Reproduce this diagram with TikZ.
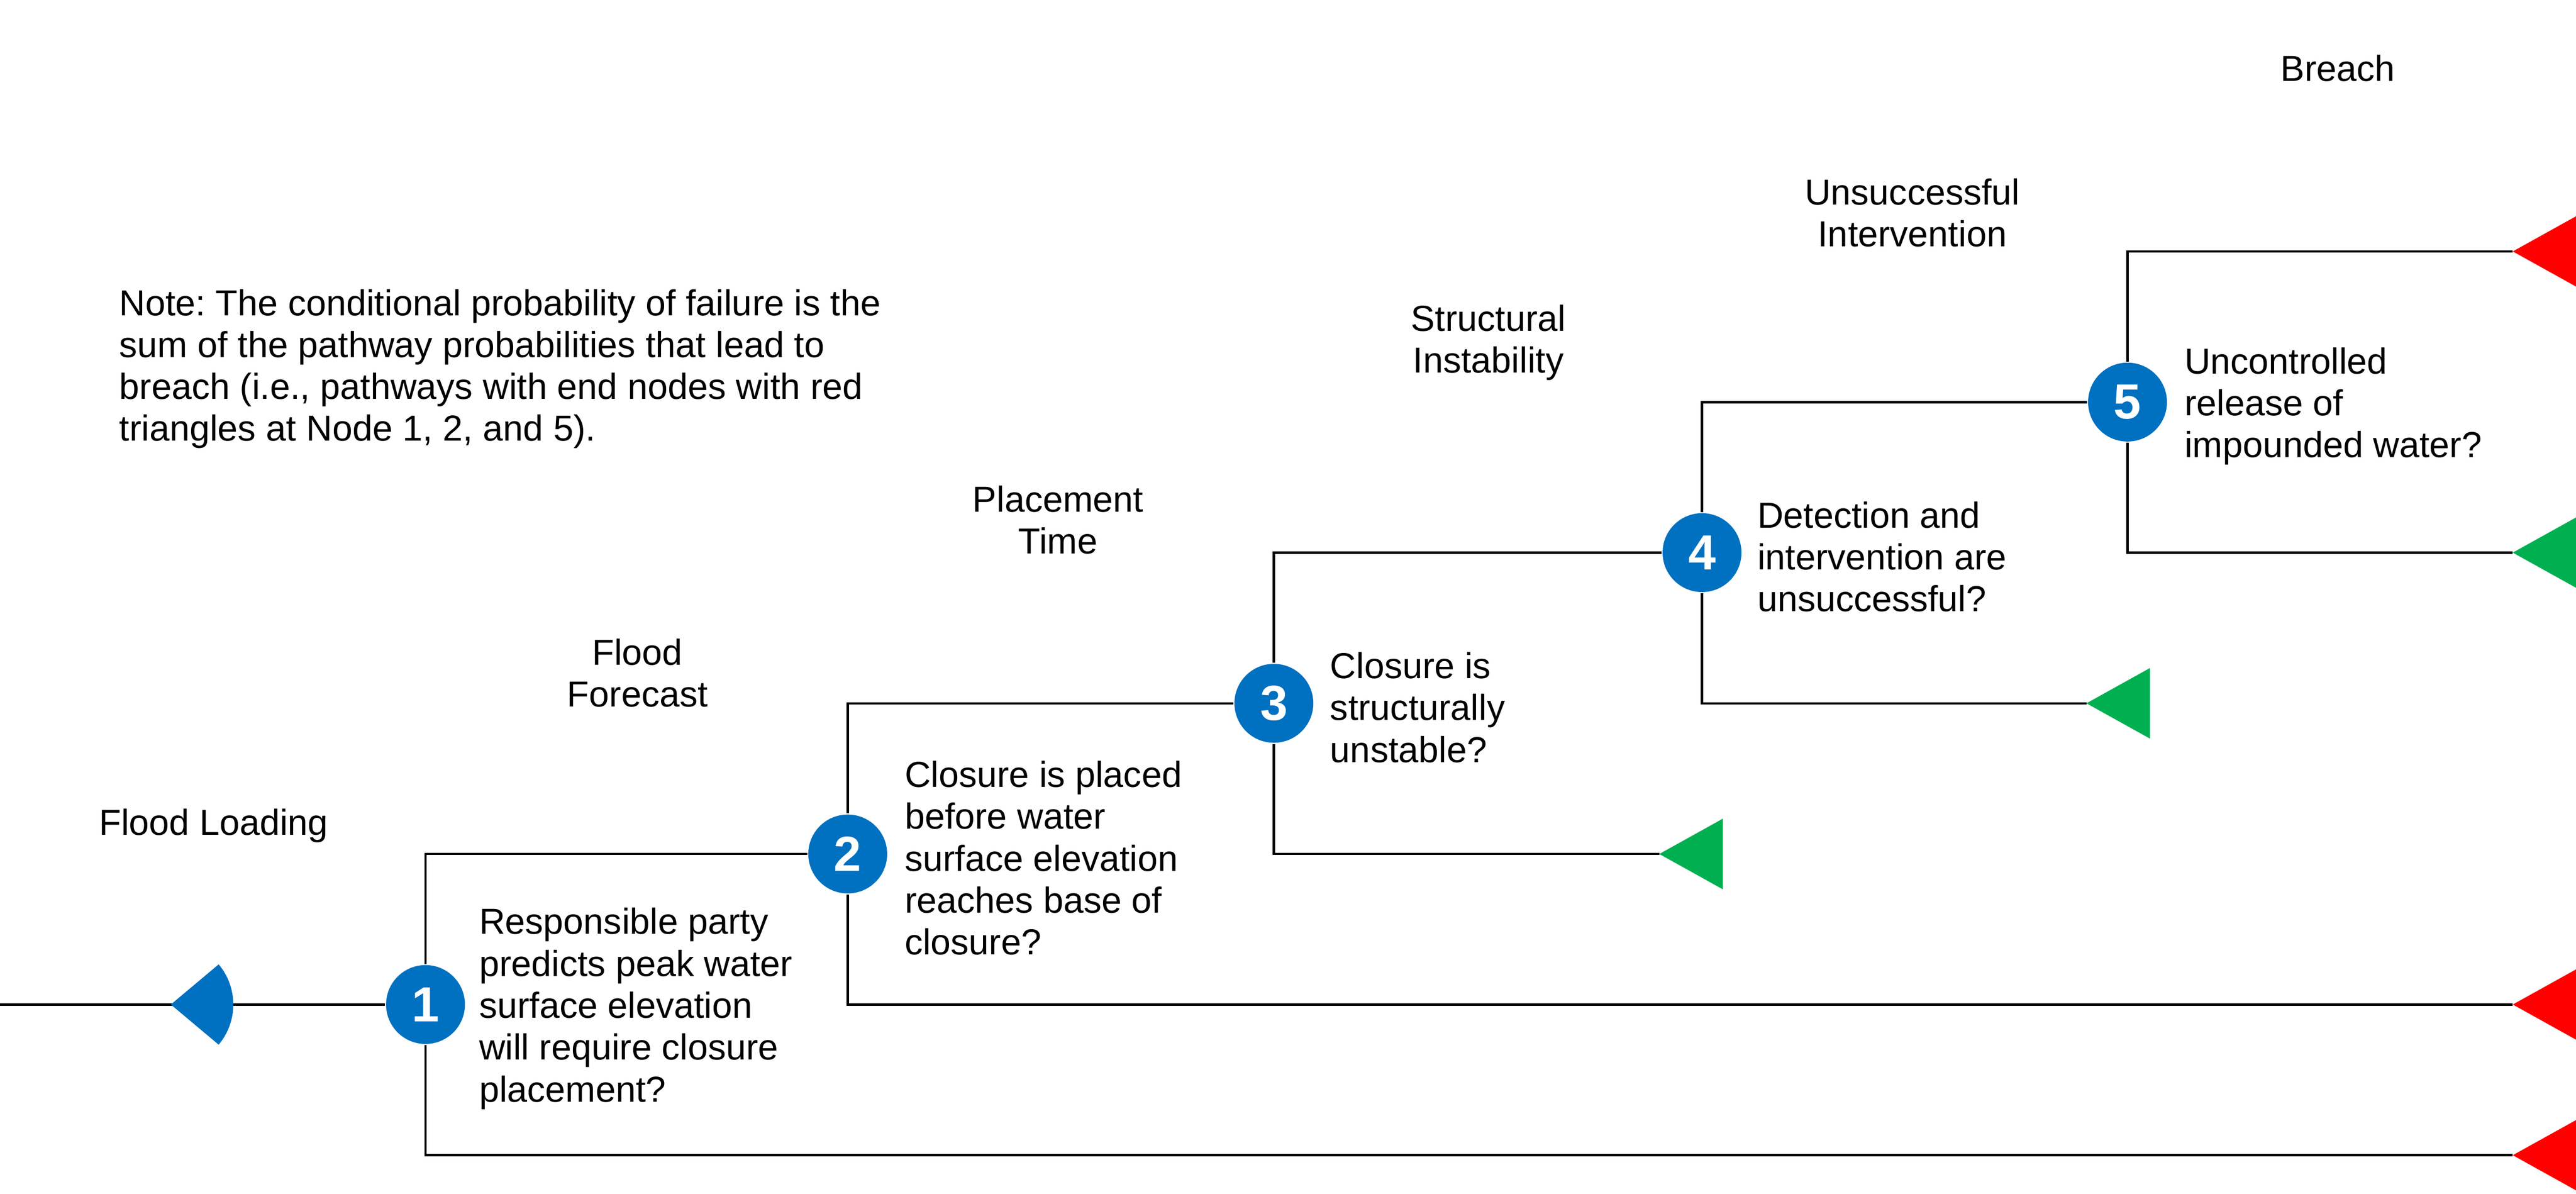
\documentclass[tikz,border=0pt]{standalone}
\usepackage{fontspec}
\setmainfont{Liberation Sans}
\frenchspacing
\definecolor{nodeblue}{HTML}{0070C0}
\definecolor{endgreen}{HTML}{00B050}
\definecolor{endred}{HTML}{FF0000}
\begin{document}
\begin{tikzpicture}[x=0.5pt,y=-0.5pt,line width=0.7pt,
  font=\fontsize{11}{12.75}\selectfont\frenchspacing,
  num/.style={circle,fill=nodeblue,text=white,minimum size=24pt,inner sep=0pt,
    font=\fontsize{15}{15}\selectfont\bfseries},
  lbl/.style={align=left,anchor=west,inner sep=0pt,yshift=-1.25pt},
  hdr/.style={align=center,inner sep=0pt,yshift=-1.25pt}]
\useasboundingbox (0,0) rectangle (1568,726.4);
% levels
\def\yA{153}\def\yB{244.7}\def\yC{336.3}\def\yD{428}\def\yE{519.7}\def\yF{611.3}\def\yG{703}
% chance nodes
\node[num] (n1) at (259,\yF) {1};
\node[num] (n2) at (516,\yE) {2};
\node[num] (n3) at (775.4,\yD) {3};
\node[num] (n4) at (1036,\yC) {4};
\node[num] (n5) at (1295,\yB) {5};
% end points
\coordinate (start) at (0,\yF);
\coordinate (fan) at (104,\yF);
\coordinate (e1) at (1529.5,\yG);
\coordinate (e2) at (1529.5,\yF);
\coordinate (e3) at (1010,\yE);
\coordinate (e4) at (1270,\yD);
\coordinate (e5) at (1529.5,\yA);
\coordinate (e6) at (1529.5,\yC);
% connectors
\draw (start) -- (n1);
\draw (n1) |- (n2);
\draw (n1) |- (e1);
\draw (n2) |- (n3);
\draw (n2) |- (e2);
\draw (n3) |- (n4);
\draw (n3) |- (e3);
\draw (n4) |- (n5);
\draw (n4) |- (e4);
\draw (n5) |- (e5);
\draw (n5) |- (e6);
% start fan
\fill[nodeblue] (fan) -- ++(40:38) arc (40:-40:38) -- cycle;
% end triangles
\fill[endred] (e1) -- ++(38.7,-21.5) -- ++(0,43) -- cycle;
\fill[endred] (e2) -- ++(38.7,-21.5) -- ++(0,43) -- cycle;
\fill[endgreen] (e3) -- ++(38.7,-21.5) -- ++(0,43) -- cycle;
\fill[endgreen] (e4) -- ++(38.7,-21.5) -- ++(0,43) -- cycle;
\fill[endred] (e5) -- ++(38.7,-21.5) -- ++(0,43) -- cycle;
\fill[endgreen] (e6) -- ++(38.7,-21.5) -- ++(0,43) -- cycle;
% headers
\node[hdr] (h0) at (130,500) {Flood Loading};
\node[hdr] (h1) at (388,407) {Flood\\Forecast};
\node[hdr] (h2) at (644,314) {Placement\\Time};
\node[hdr] (h3) at (906,206) {Structural\\Instability};
\node[hdr] (h4) at (1164,127) {Unsuccessful\\Intervention};
\node[hdr] (h5) at (1423,39) {Breach};
% note
\node[lbl] (note) at (72,222) {Note: The conditional probability of failure is the\\sum of the pathway probabilities that lead to\\breach (i.e., pathways with end nodes with red\\triangles at Node 1, 2, and 5).};
% node questions
\node[lbl] (q1) at (291,\yF) {Responsible party\\predicts peak water\\surface elevation\\will require closure\\placement?};
\node[lbl] (q2) at (550,\yE) {Closure is placed\\before water\\surface elevation\\reaches base of\\closure?};
\node[lbl] (q3) at (809,\yD) {Closure is\\structurally\\unstable?};
\node[lbl] (q4) at (1069,\yC) {Detection and\\intervention are\\unsuccessful?};
\node[lbl] (q5) at (1329,\yB) {Uncontrolled\\release of\\impounded water?};
\end{tikzpicture}
\end{document}
